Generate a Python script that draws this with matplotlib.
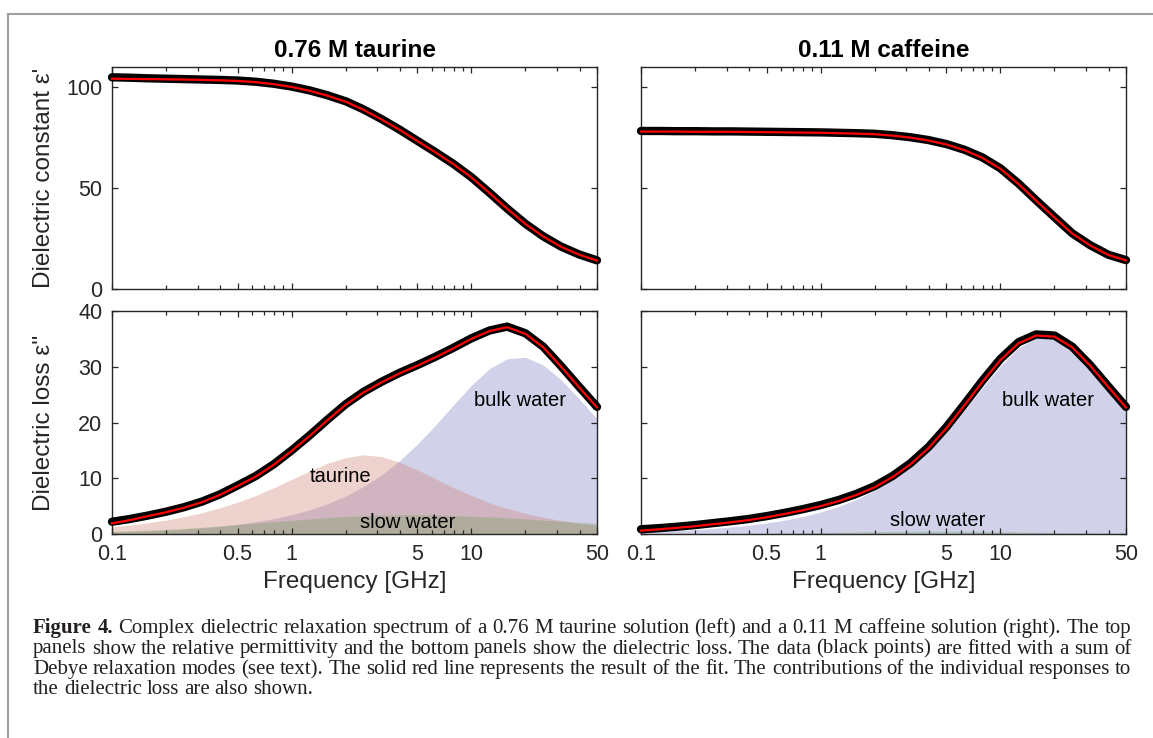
import matplotlib
matplotlib.use("Agg")
import matplotlib.pyplot as plt
from matplotlib.ticker import FixedLocator, LogLocator, NullFormatter, FixedFormatter
from matplotlib.lines import Line2D

# ---------------- data ----------------
freq = [0.1, 0.126, 0.158, 0.2, 0.251, 0.316, 0.398, 0.5, 0.631, 0.794,
        1.0, 1.26, 1.58, 2.0, 2.51, 3.16, 3.98, 5.01, 6.31, 7.94,
        10.0, 12.6, 15.8, 20.0, 25.1, 31.6, 39.8, 50.0]

# 0.76 M taurine
eps_taurine = [104.9, 104.7, 104.4, 104.2, 104.0, 103.8, 103.6, 103.3, 102.7, 101.7,
               100.3, 98.4, 96.0, 93.0, 89.0, 84.2, 79.0, 73.4, 67.8, 62.0,
               55.4, 47.7, 39.9, 32.3, 26.1, 21.0, 17.1, 14.2]
eps_taurine_fit = [104.2, 104.1, 104.0, 103.9, 103.8, 103.6, 103.4, 103.1, 102.5, 101.5,
                   100.1, 98.2, 95.8, 92.8, 88.8, 84.0, 78.9, 73.3, 67.7, 61.9,
                   55.3, 47.6, 39.8, 32.2, 26.0, 20.9, 17.0, 14.1]
loss_taurine = [2.2, 2.7, 3.3, 4.0, 4.8, 5.8, 7.1, 8.7, 10.4, 12.5,
                15.0, 17.7, 20.5, 23.3, 25.5, 27.3, 28.9, 30.3, 31.8, 33.4,
                35.1, 36.5, 37.2, 36.0, 33.6, 30.1, 26.4, 22.8]
loss_taurine_fit = [1.9, 2.5, 3.2, 3.9, 4.7, 5.7, 7.0, 8.6, 10.3, 12.4,
                    14.9, 17.6, 20.4, 23.2, 25.4, 27.2, 28.8, 30.2, 31.7, 33.3,
                    35.0, 36.4, 37.1, 35.9, 33.5, 30.0, 26.3, 22.7]
mode_taurine_solute = [1.3, 1.6, 2.0, 2.5, 3.1, 3.8, 4.7, 5.7, 6.9, 8.3,
                       9.8, 11.3, 12.7, 13.7, 14.2, 13.9, 12.9, 11.5, 9.9, 8.3,
                       6.9, 5.6, 4.6, 3.7, 3.0, 2.4, 1.9, 1.6]
mode_taurine_bulk = [0.35, 0.44, 0.55, 0.69, 0.87, 1.09, 1.38, 1.73, 2.18, 2.74,
                     3.45, 4.34, 5.42, 6.83, 8.52, 10.61, 13.14, 16.12, 19.51, 23.13,
                     26.68, 29.65, 31.43, 31.69, 30.32, 27.65, 24.22, 20.62]
mode_taurine_slow = [0.5, 0.6, 0.7, 0.85, 1.0, 1.2, 1.45, 1.7, 1.95, 2.2,
                     2.45, 2.7, 2.95, 3.15, 3.3, 3.4, 3.45, 3.45, 3.4, 3.3,
                     3.2, 3.05, 2.9, 2.7, 2.5, 2.3, 2.1, 1.9]

# 0.11 M caffeine
eps_caffeine = [78.3, 78.3, 78.2, 78.2, 78.1, 78.1, 78.0, 77.9, 77.8, 77.7,
                77.6, 77.4, 77.2, 76.9, 76.2, 75.2, 73.8, 71.8, 69.0, 65.2,
                59.8, 52.3, 44.0, 35.6, 27.6, 21.7, 17.0, 14.3]
eps_caffeine_fit = [78.0, 78.0, 78.0, 77.9, 77.9, 77.9, 77.8, 77.7, 77.6, 77.5,
                    77.4, 77.2, 77.0, 76.7, 76.0, 75.0, 73.6, 71.6, 68.8, 65.0,
                    59.6, 52.1, 43.8, 35.4, 27.5, 21.6, 16.9, 14.2]
loss_caffeine = [0.85, 1.05, 1.3, 1.6, 1.95, 2.3, 2.7, 3.2, 3.8, 4.45,
                 5.2, 6.1, 7.2, 8.6, 10.4, 12.7, 15.6, 19.2, 23.3, 27.5,
                 31.4, 34.4, 35.8, 35.6, 33.6, 30.3, 26.5, 22.8]
loss_caffeine_fit = [0.6, 0.85, 1.1, 1.4, 1.75, 2.1, 2.5, 3.0, 3.6, 4.25,
                     5.0, 5.9, 7.0, 8.4, 10.2, 12.5, 15.4, 19.0, 23.1, 27.3,
                     31.2, 34.2, 35.6, 35.4, 33.5, 30.2, 26.4, 22.7]
mode_caffeine_bulk = [0.39, 0.50, 0.62, 0.79, 0.99, 1.25, 1.57, 1.97, 2.49, 3.13,
                      3.93, 4.95, 6.19, 7.80, 9.71, 12.09, 14.97, 18.34, 22.17, 26.22,
                      30.14, 33.36, 35.2, 35.3, 33.6, 30.5, 26.7, 22.6]
mode_caffeine_slow = [0.03, 0.04, 0.05, 0.06, 0.08, 0.1, 0.12, 0.15, 0.19, 0.23,
                      0.28, 0.33, 0.38, 0.43, 0.47, 0.5, 0.52, 0.52, 0.5, 0.47,
                      0.43, 0.38, 0.33, 0.28, 0.23, 0.19, 0.15, 0.12]

titles = ["0.76 M taurine", "0.11 M caffeine"]
xtick_values = [0.1, 0.5, 1, 5, 10, 50]
xtick_labels = ["0.1", "0.5", "1", "5", "10", "50"]
eps_ticks = [0, 50, 100]
loss_ticks = [0, 10, 20, 30, 40]

caption_bold = "Figure 4."
caption_lines = [
    "Complex dielectric relaxation spectrum of a 0.76 M taurine solution (left) and a 0.11 M caffeine solution (right). The top",
    "panels show the relative permittivity and the bottom panels show the dielectric loss. The data (black points) are fitted with a sum of",
    "Debye relaxation modes (see text). The solid red line represents the result of the fit. The contributions of the individual responses to",
    "the dielectric loss are also shown.",
]

# ---------------- figure ----------------
W, H = 1153, 738
fig = plt.figure(figsize=(W / 100, H / 100), dpi=100)
plt.rcParams["font.family"] = ["Liberation Sans", "DejaVu Sans"]

def fx(x):
    return x / W

def fy(y):
    return 1 - y / H

AX_COL = "#262626"
C_SOLUTE = "#d08070"
C_BULK = "#7070c0"
C_SLOW = "#5f9a45"

def style(ax, ylim, yticks, show_ylabels, show_xlabels):
    ax.set_xscale("log")
    ax.set_xlim(0.1, 50)
    ax.set_ylim(*ylim)
    ax.xaxis.set_major_locator(FixedLocator(xtick_values))
    ax.xaxis.set_major_formatter(FixedFormatter(xtick_labels))
    ax.xaxis.set_minor_locator(LogLocator(base=10, subs=[2, 3, 4, 6, 7, 8, 9]))
    ax.xaxis.set_minor_formatter(NullFormatter())
    ax.set_yticks(yticks)
    ax.tick_params(which="both", direction="in", top=True, right=True,
                   color=AX_COL, labelcolor=AX_COL, labelsize=15.5, width=0.9)
    ax.tick_params(which="major", length=4.5, pad=7)
    ax.tick_params(which="minor", length=3)
    if not show_ylabels:
        ax.tick_params(axis="y", labelleft=False)
    if not show_xlabels:
        ax.tick_params(axis="x", labelbottom=False)
    for s in ax.spines.values():
        s.set_color(AX_COL)
        s.set_linewidth(1.0)

def draw_data(ax, y, yfit):
    ax.plot(freq, y, color="black", lw=6.0, solid_capstyle="round",
            solid_joinstyle="round", zorder=3, clip_on=False)
    ax.plot(freq, yfit, color="#ff0000", lw=1.6, zorder=4, clip_on=False,
            solid_joinstyle="round")

axw, axh_top, axh_bot = 485 / W, 222 / H, 223 / H
ax_tl = fig.add_axes([fx(112), fy(289), axw, axh_top])
ax_tr = fig.add_axes([fx(641), fy(289), axw, axh_top])
ax_bl = fig.add_axes([fx(112), fy(534), axw, axh_bot])
ax_br = fig.add_axes([fx(641), fy(534), axw, axh_bot])

# top panels
style(ax_tl, (0, 110), eps_ticks, True, False)
style(ax_tr, (0, 110), eps_ticks, False, False)
draw_data(ax_tl, eps_taurine, eps_taurine_fit)
draw_data(ax_tr, eps_caffeine, eps_caffeine_fit)
ax_tl.set_title(titles[0], fontsize=17.5, fontweight="bold", pad=7)
ax_tr.set_title(titles[1], fontsize=17.5, fontweight="bold", pad=7)
ax_tl.set_ylabel("Dielectric constant ε'", fontsize=17.5, color=AX_COL)
ax_tl.yaxis.set_label_coords(-0.118, 0.5)

# bottom panels
style(ax_bl, (0, 40), loss_ticks, True, True)
style(ax_br, (0, 40), loss_ticks, False, True)
ax_bl.fill_between(freq, 0, mode_taurine_bulk, color=C_BULK, alpha=0.32, lw=0, zorder=1)
ax_bl.fill_between(freq, 0, mode_taurine_solute, color=C_SOLUTE, alpha=0.35, lw=0, zorder=1.1)
ax_bl.fill_between(freq, 0, mode_taurine_slow, color=C_SLOW, alpha=0.28, lw=0, zorder=1.2)
ax_br.fill_between(freq, 0, mode_caffeine_bulk, color=C_BULK, alpha=0.32, lw=0, zorder=1)
ax_br.fill_between(freq, 0, mode_caffeine_slow, color=C_SLOW, alpha=0.28, lw=0, zorder=1.2)
draw_data(ax_bl, loss_taurine, loss_taurine_fit)
draw_data(ax_br, loss_caffeine, loss_caffeine_fit)

txt = dict(fontsize=14.5, color="black", ha="center", va="center", zorder=5)
ax_bl.text(18.6, 23.9, "bulk water", **txt)
ax_bl.text(1.87, 10.3, "taurine", **txt)
ax_bl.text(4.43, 2.0, "slow water", **txt)
ax_br.text(18.5, 23.9, "bulk water", **txt)
ax_br.text(4.46, 2.4, "slow water", **txt)

ax_bl.set_ylabel("Dielectric loss ε''", fontsize=17.5, color=AX_COL)
ax_bl.yaxis.set_label_coords(-0.118, 0.5)
for ax in (ax_bl, ax_br):
    ax.set_xlabel("Frequency [GHz]", fontsize=17.5, color=AX_COL)
    ax.xaxis.set_label_coords(0.5, -0.165)

# frame of the figure box
fig.add_artist(Line2D([fx(8), 1.0], [fy(14), fy(14)], transform=fig.transFigure,
                      color="#a0a0a0", lw=1.5))
fig.add_artist(Line2D([fx(8), fx(8)], [fy(14), 0.0], transform=fig.transFigure,
                      color="#a0a0a0", lw=1.5))

# caption (justified lines)
renderer = fig.canvas.get_renderer()
serif = ["Liberation Serif", "DejaVu Serif"]
CAP_COL = "#231f20"

def measure(s, fs, bold=False):
    t = fig.text(0, 0, s, fontfamily=serif, fontsize=fs,
                 fontweight="bold" if bold else "normal")
    w = t.get_window_extent(renderer).width
    t.remove()
    return w

line_words = []
for i, line in enumerate(caption_lines):
    words = [(w, False) for w in line.split(" ")]
    if i == 0:
        words = [(w, True) for w in caption_bold.split(" ")] + words
    line_words.append(words)

base_fs = 13.0
space_w = measure("a a", base_fs) - measure("aa", base_fs)
nat = []
for words in line_words:
    nat.append(sum(measure(w, base_fs, b) for w, b in words) + space_w * (len(words) - 1))
target = 1098.0
fs = base_fs * target / max(nat)
scale = fs / base_fs
x_left = 33.0
baselines = [633, 653.5, 674, 694.5]
for i, words in enumerate(line_words):
    widths = [measure(w, base_fs, b) * scale for w, b in words]
    if i < 3:
        gap = (target - sum(widths)) / (len(words) - 1)
    else:
        gap = space_w * scale
    x = x_left
    for (w, b), wd in zip(words, widths):
        fig.text(fx(x), fy(baselines[i]), w, fontfamily=serif, fontsize=fs,
                 fontweight="bold" if b else "normal", va="baseline", color=CAP_COL)
        x += wd + gap

fig.savefig("out.png", dpi=100)
